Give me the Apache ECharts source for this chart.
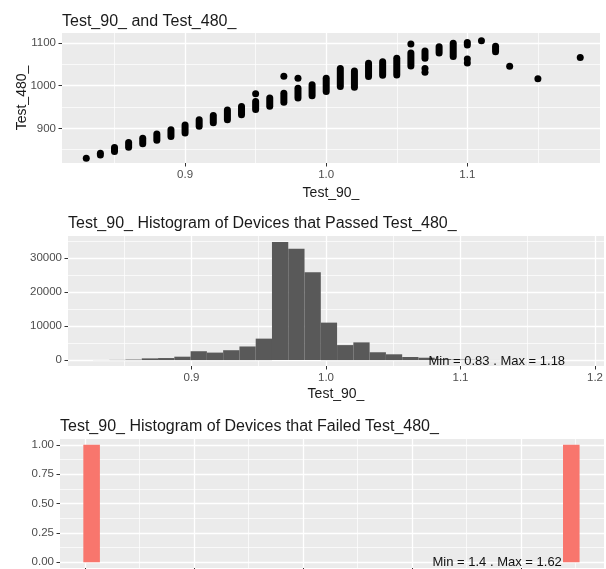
<!DOCTYPE html>
<html>
<head>
<meta charset="utf-8">
<title>Test_90_ and Test_480_</title>
<script src="https://cdn.jsdelivr.net/npm/echarts@6/dist/echarts.min.js"></script>
<style>body{margin:0;background:#fff}</style>
</head>
<body>
<div id="main" style="width:606px;height:569px;"></div>
<script type="text/javascript">
// ---- scatter Test_90_ vs Test_480_ ----
// each x value carries a dense stack of points: lowest and highest point of the stack
var colX    = [0.84, 0.85, 0.86, 0.87, 0.88, 0.89, 0.90, 0.91, 0.92, 0.93, 0.94, 0.95, 0.96, 0.97, 0.98, 0.99, 1.00, 1.01, 1.02, 1.03, 1.04, 1.05, 1.06, 1.07, 1.08, 1.09, 1.10, 1.12];
var colLow  = [838, 846, 856, 864, 872, 881, 889, 905, 913, 920, 932, 944, 952, 961, 971, 976, 986, 998, 996, 1021, 1024, 1025, 1046, 1064, 1076, 1068, 1095, 1079];
var colHigh = [842, 855, 867, 877, 887, 897, 908, 920, 930, 943, 951, 963, 971, 982, 994, 1002, 1017, 1040, 1034, 1052, 1056, 1064, 1076, 1081, 1091, 1099, 1101, 1092];
// isolated points
var ptX = [0.83, 0.95, 0.97, 0.98, 1.06, 1.07, 1.07, 1.10, 1.10, 1.11, 1.13, 1.15, 1.18];
var ptY = [830, 981, 1022, 1017, 1097, 1040, 1031, 1062, 1053, 1105, 1045, 1016, 1066];

// ---- histogram, devices that passed Test_480_ ----
var passCenters = [0.8328, 0.8449, 0.8570, 0.8691, 0.8812, 0.8933, 0.9054, 0.9175, 0.9296, 0.9417,
                   0.9538, 0.9659, 0.9780, 0.9901, 1.0022, 1.0143, 1.0264, 1.0385, 1.0506, 1.0627,
                   1.0748, 1.0869, 1.0990, 1.1111, 1.1232, 1.1353, 1.1474, 1.1595, 1.1716, 1.1837];
var passCounts  = [20, 60, 150, 500, 600, 1000, 2600, 2200, 2900, 4000,
                   6300, 34700, 32700, 25800, 11000, 4400, 5200, 2300, 1700, 900,
                   700, 300, 150, 80, 40, 20, 10, 5, 3, 2];
var passBinWidth = 0.0121;
var passMin = 0.83, passMax = 1.18;

// ---- histogram, devices that failed Test_480_ ----
var failCenters = [1.403, 1.623];
var failCounts  = [1, 1];
var failBinWidth = 0.0076;
var failMin = 1.4, failMax = 1.62;

// ---- axis breaks ----
var scatterXTicks = [0.9, 1.0, 1.1];
var scatterYTicks = [900, 1000, 1100];
var passXTicks = [0.9, 1.0, 1.1, 1.2];
var passYTicks = [0, 10000, 20000, 30000];
var failXTicks = [1.40, 1.45, 1.50, 1.55, 1.60];
var failYTicks = [0, 0.25, 0.50, 0.75, 1.00];
var failYMinor = [0.125, 0.375, 0.625, 0.875];

var FONT = '"Liberation Sans", Arial, sans-serif';
var myChart = echarts.init(document.getElementById('main'));

function valueAxis(gridIndex, min, max, splitNumber, ticks, fmt, extra) {
    var a = {
        type: 'value',
        gridIndex: gridIndex,
        min: min,
        max: max,
        splitNumber: splitNumber,
        axisLine: { show: false, onZero: false },
        axisTick: { show: true, length: 3.5, customValues: ticks, lineStyle: { color: '#333333', width: 1 } },
        axisLabel: { customValues: ticks, formatter: fmt, margin: 6, color: '#4d4d4d', fontSize: 11.5, fontFamily: FONT },
        splitLine: { show: true, lineStyle: { color: '#ffffff', width: 1.3 } },
        minorTick: { show: false, splitNumber: 2 },
        minorSplitLine: { show: true, lineStyle: { color: '#ffffff', width: 0.7 } },
        nameMoveOverlap: false,
        nameTextStyle: { color: '#1a1a1a', fontSize: 14, fontFamily: FONT }
    };
    for (var k in extra) a[k] = extra[k];
    return a;
}

// bar of a histogram, from 0 up to the count, one bin wide
function histItem(width, color) {
    return function (params, api) {
        var c = api.value(0), n = api.value(1);
        var p0 = api.coord([c - width / 2, n]);
        var p1 = api.coord([c + width / 2, 0]);
        return { type: 'rect', shape: { x: p0[0], y: p0[1], width: p1[0] - p0[0], height: p1[1] - p0[1] }, style: { fill: color } };
    };
}

function noteItem(text) {
    return function (params, api) {
        var p = api.coord([api.value(0), api.value(1)]);
        return { type: 'text', x: p[0], y: p[1], style: { text: text, fill: '#111111', font: '13px ' + FONT, align: 'center', verticalAlign: 'middle' } };
    };
}

var titleStyle = { color: '#1a1a1a', fontSize: 16, fontWeight: 'normal', fontFamily: FONT };
var panel = { show: true, backgroundColor: '#ebebeb', borderWidth: 0, outerBoundsMode: 'none', containLabel: false };

function grid(left, top, width, height) {
    var g = { left: left, top: top, width: width, height: height };
    for (var k in panel) g[k] = panel[k];
    return g;
}

option = {
    backgroundColor: '#ffffff',
    animation: false,
    title: [
        { text: 'Test_90_ and Test_480_', left: 62, top: 14, padding: 0, textStyle: titleStyle },
        { text: 'Test_90_ Histogram of Devices that Passed Test_480_', left: 68, top: 216, padding: 0, textStyle: titleStyle },
        { text: 'Test_90_ Histogram of Devices that Failed Test_480_', left: 60, top: 419, padding: 0, textStyle: titleStyle }
    ],
    grid: [
        grid(62, 33, 538, 130),
        grid(68, 236, 536, 130),
        grid(60, 439, 544, 129)
    ],
    xAxis: [
        valueAxis(0, 0.8128, 1.194, 4, scatterXTicks, function (v) { return v.toFixed(1); },
            { name: 'Test_90_', nameLocation: 'middle', nameGap: 23 }),
        valueAxis(1, 0.8082, 1.2067, 4, passXTicks, function (v) { return v.toFixed(1); },
            { name: 'Test_90_', nameLocation: 'middle', nameGap: 21 }),
        valueAxis(2, 1.3885, 1.638, 5, failXTicks, function (v) { return v.toFixed(2); }, {})
    ],
    yAxis: [
        valueAxis(0, 819, 1123, 3, scatterYTicks, function (v) { return String(v); },
            { name: 'Test_480_', nameLocation: 'middle', nameGap: 33 }),
        valueAxis(1, -1735, 36435, 4, passYTicks, function (v) { return String(v); }, {}),
        valueAxis(2, -0.05, 1.05, 4, failYTicks, function (v) { return v.toFixed(2); },
            { minorSplitLine: { show: false } }),
        // only carries the thin lines between the breaks of the failed histogram
        valueAxis(2, -0.05, 1.05, 4, failYMinor, function () { return ''; },
            { axisTick: { show: false, customValues: failYMinor }, axisLabel: { show: false, customValues: failYMinor },
              splitLine: { show: true, lineStyle: { color: '#ffffff', width: 0.7 } }, minorSplitLine: { show: false } })
    ],
    series: [
        {
            name: 'stacks',
            type: 'custom',
            xAxisIndex: 0,
            yAxisIndex: 0,
            encode: { x: 0, y: [1, 2] },
            data: colX.map(function (x, i) { return [x, colLow[i], colHigh[i]]; }),
            renderItem: function (params, api) {
                var r = 3.5;
                var top = api.coord([api.value(0), api.value(2)]);
                var bot = api.coord([api.value(0), api.value(1)]);
                return { type: 'rect', shape: { x: top[0] - r, y: top[1] - r, width: 2 * r, height: bot[1] - top[1] + 2 * r, r: r }, style: { fill: '#000000' } };
            }
        },
        {
            name: 'points',
            type: 'scatter',
            xAxisIndex: 0,
            yAxisIndex: 0,
            symbolSize: 7,
            itemStyle: { color: '#000000', opacity: 1 },
            data: ptX.map(function (x, i) { return [x, ptY[i]]; })
        },
        {
            name: 'passed',
            type: 'custom',
            xAxisIndex: 1,
            yAxisIndex: 1,
            encode: { x: 0, y: 1 },
            data: passCenters.map(function (c, i) { return [c, passCounts[i]]; }),
            renderItem: histItem(passBinWidth, '#595959')
        },
        {
            name: 'passedNote',
            type: 'custom',
            xAxisIndex: 1,
            yAxisIndex: 1,
            data: [[1.127, -400]],
            renderItem: noteItem('Min = ' + passMin + ' . Max = ' + passMax)
        },
        {
            name: 'failed',
            type: 'custom',
            xAxisIndex: 2,
            yAxisIndex: 2,
            encode: { x: 0, y: 1 },
            data: failCenters.map(function (c, i) { return [c, failCounts[i]]; }),
            renderItem: histItem(failBinWidth, '#f8766d')
        },
        {
            name: 'failedNote',
            type: 'custom',
            xAxisIndex: 2,
            yAxisIndex: 2,
            data: [[1.589, 0]],
            renderItem: noteItem('Min = ' + failMin + ' . Max = ' + failMax)
        }
    ]
};

if (option && typeof option === "object") {
    myChart.setOption(option, true);
}
</script>
</body>
</html>
